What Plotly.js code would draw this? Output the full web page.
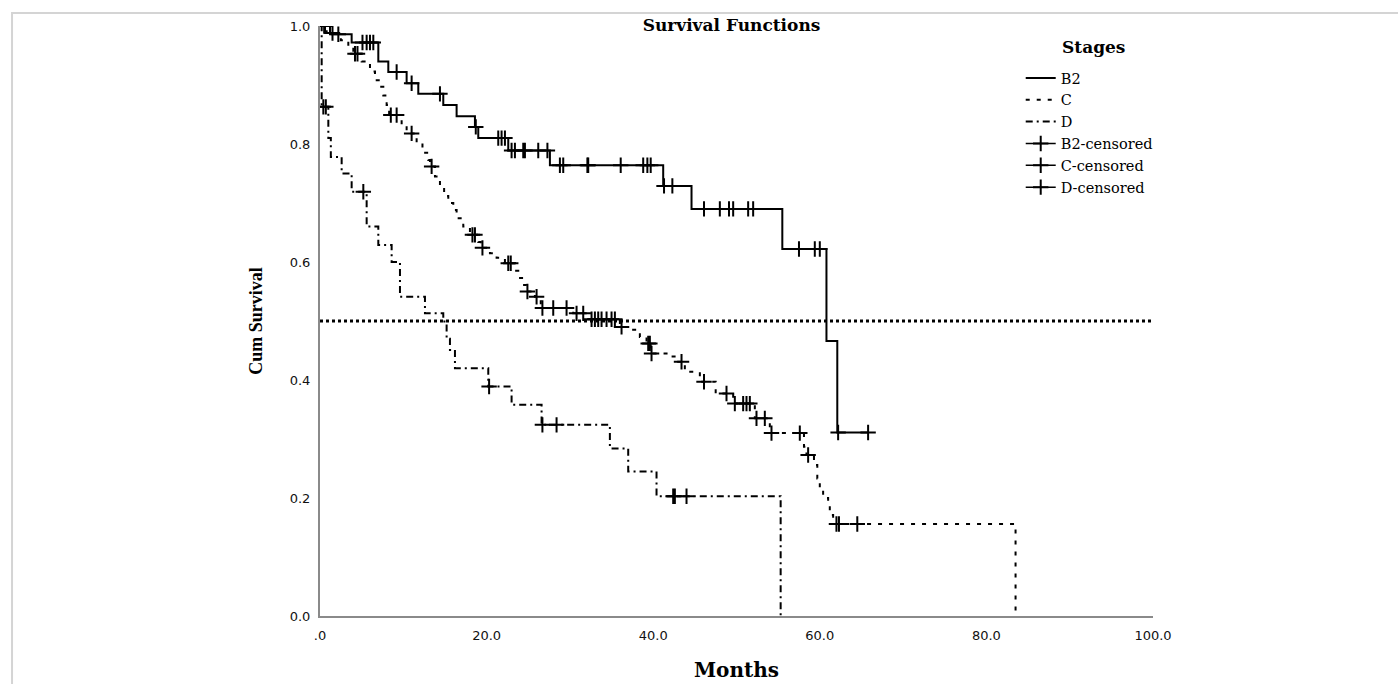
<!DOCTYPE html>
<html>
<head>
<meta charset="utf-8">
<script src="https://cdn.plot.ly/plotly-3.0.1.min.js"></script>
<style>html,body{margin:0;padding:0;background:#fff;}#chart{width:1398px;height:684px;}</style>
</head>
<body>
<div id="chart"></div>
<script>
// ---- Data (months, cumulative survival) ----
const b2Time = [0, 1.2, 3.8, 7.0, 8.2, 10.4, 11.8, 14.8, 16.4, 18.6, 19.0, 22.6, 27.6, 41.2, 44.6, 55.5, 60.8, 62.1];
const b2Surv = [1.0, 0.986, 0.972, 0.940, 0.922, 0.903, 0.885, 0.866, 0.847, 0.829, 0.810, 0.789, 0.764, 0.729, 0.690, 0.622, 0.466, 0.311];
const b2Censor = [0.6, 2.2, 5.1, 5.6, 6.0, 6.4, 9.2, 11.0, 14.4, 18.7, 21.4, 21.8, 22.2, 23.0, 23.4, 24.4, 24.6, 26.2, 27.3, 28.8, 29.2, 32.1, 32.2, 36.1, 38.8, 39.3, 39.7, 41.3, 42.3, 46.1, 48.0, 49.1, 49.6, 51.4, 52.0, 57.5, 59.4, 60.0, 62.2, 65.8];

const cTime = [0, 0.8, 2.5, 3.4, 4.0, 5.0, 6.0, 6.6, 7.2, 7.6, 8.0, 8.3, 9.8, 10.4, 11.6, 12.3, 13.0, 13.2, 13.8, 14.4, 14.9, 15.4, 16.0, 16.4, 17.2, 18.0, 19.0, 19.3, 20.4, 21.2, 22.2, 23.4, 23.8, 24.5, 24.8, 25.8, 26.5, 30.4, 32.2, 36.0, 37.4, 38.4, 39.2, 39.7, 42.2, 43.0, 43.8, 45.6, 47.5, 49.6, 52.2, 54.0, 58.1, 58.4, 59.3, 59.7, 60.0, 60.4, 61.0, 61.2, 61.6, 83.5];
const cSurv = [1.0, 0.988, 0.976, 0.965, 0.953, 0.940, 0.923, 0.908, 0.897, 0.882, 0.866, 0.849, 0.835, 0.818, 0.802, 0.785, 0.773, 0.762, 0.745, 0.728, 0.712, 0.700, 0.688, 0.674, 0.660, 0.646, 0.634, 0.624, 0.615, 0.607, 0.598, 0.585, 0.573, 0.561, 0.550, 0.541, 0.522, 0.513, 0.503, 0.490, 0.485, 0.473, 0.462, 0.445, 0.440, 0.431, 0.414, 0.397, 0.377, 0.360, 0.335, 0.310, 0.287, 0.273, 0.256, 0.233, 0.217, 0.200, 0.188, 0.171, 0.156, 0.0];
const cCensor = [0.5, 1.5, 4.2, 4.5, 8.5, 9.2, 11.0, 13.4, 18.3, 18.6, 19.5, 22.6, 22.9, 24.9, 26.0, 26.7, 28.0, 29.6, 30.8, 31.6, 32.6, 33.0, 33.4, 33.8, 34.4, 35.0, 35.4, 36.2, 39.4, 39.6, 39.8, 43.4, 46.1, 48.8, 49.8, 50.8, 51.2, 51.6, 52.4, 53.4, 54.2, 57.6, 58.6, 62.0, 62.3, 64.5];

const dTime = [0, 0.2, 1.0, 1.3, 2.6, 3.8, 5.6, 7.0, 8.6, 9.6, 12.6, 14.8, 15.2, 15.6, 16.2, 20.2, 23.0, 26.6, 34.8, 37.0, 40.4, 55.3];
const dSurv = [1.0, 0.863, 0.810, 0.778, 0.750, 0.719, 0.660, 0.629, 0.600, 0.541, 0.513, 0.499, 0.470, 0.451, 0.420, 0.389, 0.358, 0.324, 0.284, 0.245, 0.203, 0.0];
const dCensor = [0.4, 0.7, 5.2, 20.3, 26.7, 28.4, 42.4, 42.6, 44.0];

const medianLevel = 0.5;
const xTickVals = [0, 20, 40, 60, 80, 100];
const xTickText = ['.0', '20.0', '40.0', '60.0', '80.0', '100.0'];
const yTickVals = [0, 0.2, 0.4, 0.6, 0.8, 1.0];
const yTickText = ['0.0', '0.2', '0.4', '0.6', '0.8', '1.0'];

// ---- helpers ----
function survAt(times, surv, t) {
  let s = surv[0];
  for (let i = 0; i < times.length; i++) { if (times[i] <= t) s = surv[i]; }
  return s;
}
function stepTrace(name, times, surv, censor, dash) {
  const x = times.slice(), y = surv.slice();
  const lastC = Math.max.apply(null, censor);
  if (lastC > times[times.length - 1]) { x.push(lastC); y.push(surv[surv.length - 1]); }
  return { type: 'scatter', mode: 'lines', name: name, x: x, y: y,
    line: { shape: 'hv', color: '#000', width: 2, dash: dash }, hoverinfo: 'skip' };
}
function censorTrace(name, times, surv, censor) {
  const x = [], y = [];
  censor.forEach(t => { x.push(t, null); y.push(survAt(times, surv, t), null); });
  return { type: 'scatter', mode: 'lines+markers', name: name, x: x, y: y, connectgaps: false,
    line: { color: '#000', width: 1.5 },
    marker: { symbol: 'cross-thin', size: 11, color: '#000', line: { color: '#000', width: 2 } },
    hoverinfo: 'skip' };
}

const traces = [
  stepTrace('B2', b2Time, b2Surv, b2Censor, 'solid'),
  stepTrace('C', cTime, cSurv, cCensor, '4px,7px'),
  stepTrace('D', dTime, dSurv, dCensor, '7px,4px,2px,4px'),
  censorTrace('B2-censored', b2Time, b2Surv, b2Censor),
  censorTrace('C-censored', cTime, cSurv, cCensor),
  censorTrace('D-censored', dTime, dSurv, dCensor),
  { type: 'scatter', mode: 'lines', x: [0, 100], y: [medianLevel, medianLevel], showlegend: false,
    line: { color: '#000', width: 3, dash: '3px,3px' }, hoverinfo: 'skip' }
];

const serif = 'DejaVu Serif, serif';
const serifT = 'Liberation Serif, Times New Roman, serif';
const sans = 'DejaVu Sans, sans-serif';

const layout = {
  width: 1398, height: 684,
  margin: { l: 320, r: 245, t: 26, b: 68 },
  paper_bgcolor: '#fff', plot_bgcolor: '#fff',
  showlegend: true,
  title: { text: '<b>Survival Functions</b>', font: { family: serif, size: 17, color: '#000' },
    x: 0.494, xref: 'paper', xanchor: 'center', y: 1 - 25 / 684, yref: 'container', yanchor: 'middle' },
  xaxis: {
    range: [0, 100], tickvals: xTickVals, ticktext: xTickText,
    showgrid: false, zeroline: false, showline: true, linecolor: '#8a8a8a', linewidth: 2,
    ticks: 'outside', ticklen: 6, tickcolor: 'rgba(0,0,0,0)',
    tickfont: { family: sans, size: 13, color: '#111' },
    title: { text: '<b>Months</b>', font: { family: serif, size: 20, color: '#000' }, standoff: 21 },
    fixedrange: true
  },
  yaxis: {
    range: [0, 1], tickvals: yTickVals, ticktext: yTickText,
    showgrid: false, zeroline: false, showline: true, linecolor: '#8a8a8a', linewidth: 2,
    ticks: 'outside', ticklen: 5, tickcolor: 'rgba(0,0,0,0)',
    tickfont: { family: sans, size: 13, color: '#111' },
    title: { text: '<b>Cum Survival</b>', font: { family: serifT, size: 18, color: '#000' }, standoff: 22 },
    fixedrange: true
  },
  legend: {
    x: 0.8412, xanchor: 'left', y: 0.939, yanchor: 'top',
    bgcolor: 'rgba(0,0,0,0)', borderwidth: 0,
    font: { family: serif, size: 14.5, color: '#000' },
    traceorder: 'normal', itemwidth: 30
  },
  annotations: [
    { text: '<b>Stages</b>', xref: 'paper', yref: 'paper', x: 0.928, y: (616 - 47) / 590,
      xanchor: 'center', yanchor: 'middle', showarrow: false,
      font: { family: serif, size: 17, color: '#000' } }
  ],
  shapes: [
    { type: 'rect', xref: 'paper', yref: 'paper', x0: -0.3697, x1: 1.31, y0: -0.13, y1: 1.022,
      line: { color: '#d4d4d4', width: 2 }, fillcolor: 'rgba(0,0,0,0)', layer: 'below' }
  ]
};

Plotly.newPlot('chart', traces, layout, { displayModeBar: false, staticPlot: true });
</script>
</body>
</html>
